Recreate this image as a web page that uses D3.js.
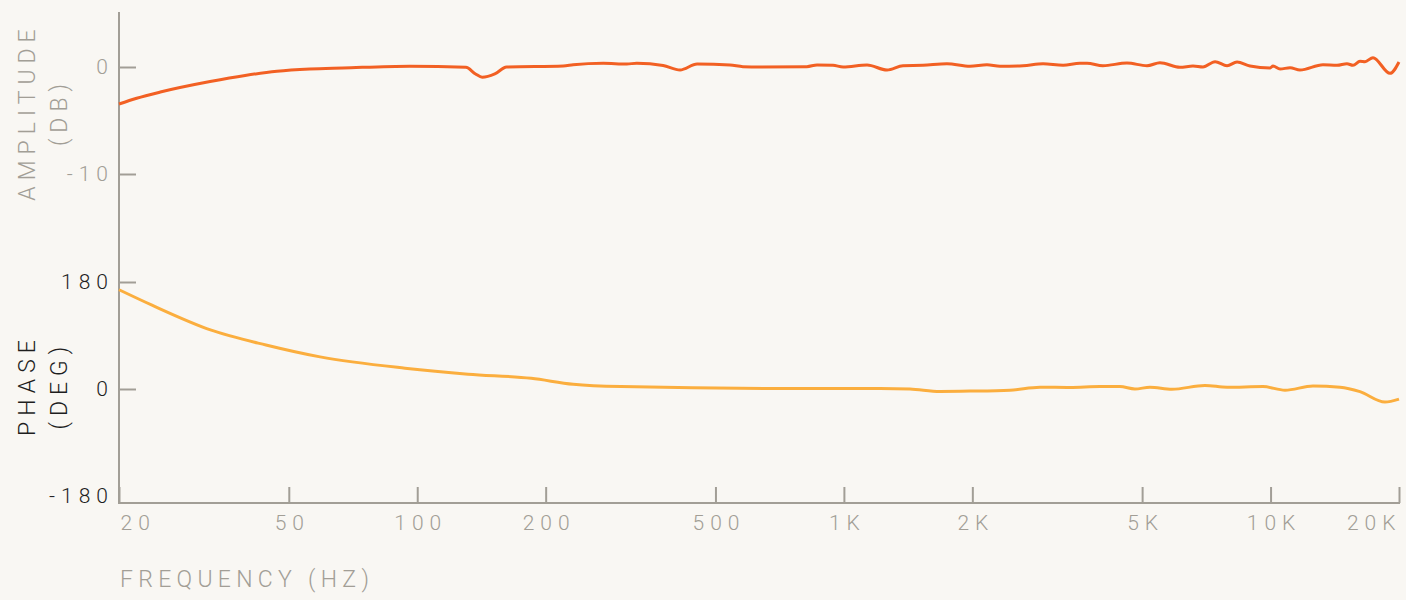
<!DOCTYPE html>
<html>
<head>
<meta charset="utf-8">
<script src="https://cdn.jsdelivr.net/npm/d3@7"></script>
<style>
  html, body { margin: 0; padding: 0; background: #f9f7f3; }
  svg { display: block; }
  text { font-family: Roboto, "DejaVu Sans", sans-serif; font-weight: 300; }
</style>
</head>
<body>
<svg id="chart" width="1406" height="600"></svg>
<script>
// ---- data ----
const ampFreq = [20, 22, 25, 32.7, 39.5, 46.9, 56, 67, 96, 130, 137, 142, 152, 162, 220, 232, 273, 310, 327, 377, 413, 453, 541, 580, 636,
  819, 865, 943, 996, 1133, 1262, 1376, 1532, 1744, 1975, 2164, 2322, 2630, 2929, 3264, 3574, 3714, 4046, 4608, 5133, 5506,
  6134, 6578, 6944, 7412, 7907, 8344, 8950, 9972, 10136, 10526, 11108, 11722, 13270, 14312, 15102, 15604, 16204, 16648,
  17380, 19050, 20000];
const ampDb = [-3.46, -2.92, -2.34, -1.36, -0.79, -0.4, -0.19, -0.09, 0.08, -0.03, -0.65, -0.96, -0.65, 0.0, 0.1, 0.21, 0.35, 0.28, 0.35, 0.14, -0.28, 0.28, 0.19, 0.03, 0.0,
  0.03, 0.19, 0.16, 0.0, 0.19, -0.28, 0.12, 0.16, 0.31, 0.07, 0.21, 0.07, 0.12, 0.31, 0.16, 0.35, 0.35, 0.12, 0.37, 0.12, 0.4,
  -0.03, 0.09, 0.0, 0.5, 0.12, 0.47, 0.09, -0.09, 0.09, -0.19, -0.07, -0.28, 0.21, 0.16, 0.31, 0.16, 0.53, 0.5,
  0.87, -0.59, 0.47];

const phaseFreq = [20, 23.9, 32.9, 44.2, 59.2, 93.6, 131.6, 185, 232, 300, 671, 1215, 1429, 1680, 1975, 2450, 2882, 3388,
  3982, 4436, 4810, 5216, 5872, 7018, 7907, 9598, 10812, 12572, 14548, 16204, 18536, 20000];
const phaseDeg = [167, 141, 99, 74, 54, 35, 25, 18, 8, 4, 1, 1, 0, -4, -3.5, -2, 3, 2.5,
  4, 4, 0, 3, -0.5, 6, 3, 4, -2, 5, 3, -4.5, -22, -17];

const freqTicks = [20, 50, 100, 200, 500, 1000, 2000, 5000, 10000, 20000];
const freqTickLabels = ["20", "50", "100", "200", "500", "1K", "2K", "5K", "10K", "20K"];
const ampTicks = [0, -10];
const phaseTicks = [180, 0, -180];

// ---- layout ----
const AXIS = "#a29e96";
const GREY = "#a29e96";
const DARK = "#1e1e1e";
const AMP_COLOR = "#f26023";
const PHASE_COLOR = "#fbae3e";
const LS = 6;

const svg = d3.select("#chart");
const x = d3.scaleLog().domain([20, 20000]).range([119, 1399]);
const yAmp = d3.scaleLinear().domain([-10, 0]).range([174, 67]);
const yPhase = d3.scaleLinear().domain([-180, 180]).range([496, 282]);

// axis lines
svg.append("line").attr("x1", 119).attr("x2", 119).attr("y1", 12).attr("y2", 503)
  .attr("stroke", AXIS).attr("stroke-width", 2);
svg.append("line").attr("x1", 118).attr("x2", 1400).attr("y1", 503).attr("y2", 503)
  .attr("stroke", AXIS).attr("stroke-width", 2);

// amplitude axis
const gA = svg.append("g").attr("transform", "translate(119,0)")
  .call(d3.axisLeft(yAmp).tickValues(ampTicks).tickSizeInner(-17).tickSizeOuter(0).tickPadding(11 - LS)
    .tickFormat(d => d));
gA.select(".domain").remove();
gA.selectAll(".tick line").attr("stroke", AXIS).attr("stroke-width", 2);
gA.selectAll(".tick text").attr("fill", GREY).attr("font-size", 21).attr("letter-spacing", LS)
  .attr("font-family", "Roboto, 'DejaVu Sans', sans-serif");

// phase axis
const gP = svg.append("g").attr("transform", "translate(119,0)")
  .call(d3.axisLeft(yPhase).tickValues(phaseTicks).tickSizeInner(-17).tickSizeOuter(0).tickPadding(11 - LS)
    .tickFormat(d => d));
gP.select(".domain").remove();
gP.selectAll(".tick line").attr("stroke", AXIS).attr("stroke-width", 2)
  .attr("display", d => d === -180 ? "none" : null);
gP.selectAll(".tick text").attr("fill", DARK).attr("font-size", 21).attr("letter-spacing", LS)
  .attr("font-family", "Roboto, 'DejaVu Sans', sans-serif");

// frequency axis
const gX = svg.append("g").attr("transform", "translate(0,503)")
  .call(d3.axisBottom(x).tickValues(freqTicks).tickSizeInner(-16).tickSizeOuter(0).tickPadding(12)
    .tickFormat((d, i) => freqTickLabels[i]));
gX.select(".domain").remove();
gX.selectAll(".tick line").attr("stroke", AXIS).attr("stroke-width", 2);
gX.selectAll(".tick text").attr("fill", GREY).attr("font-size", 21).attr("letter-spacing", LS)
  .attr("font-family", "Roboto, 'DejaVu Sans', sans-serif")
  .attr("text-anchor", (d, i) => i === 0 ? "start" : (i === freqTicks.length - 1 ? "end" : "middle"))
  .attr("dx", (d, i) => i === 0 ? 1 : (i === freqTicks.length - 1 ? LS - 4 : LS / 2));

// titles
function vtitle(txt, cx, cy, color) {
  svg.append("text").attr("transform", `translate(${cx},${cy}) rotate(-90)`)
    .attr("text-anchor", "middle").attr("dx", LS / 2)
    .attr("font-size", 23).attr("letter-spacing", LS).attr("fill", color).text(txt);
}
vtitle("AMPLITUDE", 35, 115, GREY);
vtitle("(DB)", 67, 115, GREY);
vtitle("PHASE", 35, 388, DARK);
vtitle("(DEG)", 67, 388, DARK);

svg.append("text").attr("x", 120).attr("y", 587).attr("font-size", 23).attr("letter-spacing", 5.3)
  .attr("fill", GREY).text("FREQUENCY (HZ)");

// lines
const ampData = ampFreq.map((f, i) => [f, ampDb[i]]);
const phaseData = phaseFreq.map((f, i) => [f, phaseDeg[i]]);

svg.append("path").datum(phaseData)
  .attr("fill", "none").attr("stroke", PHASE_COLOR).attr("stroke-width", 3)
  .attr("d", d3.line().x(d => x(d[0])).y(d => yPhase(d[1])).curve(d3.curveMonotoneX));

svg.append("path").datum(ampData)
  .attr("fill", "none").attr("stroke", AMP_COLOR).attr("stroke-width", 3)
  .attr("d", d3.line().x(d => x(d[0])).y(d => yAmp(d[1])).curve(d3.curveMonotoneX));
</script>
</body>
</html>
